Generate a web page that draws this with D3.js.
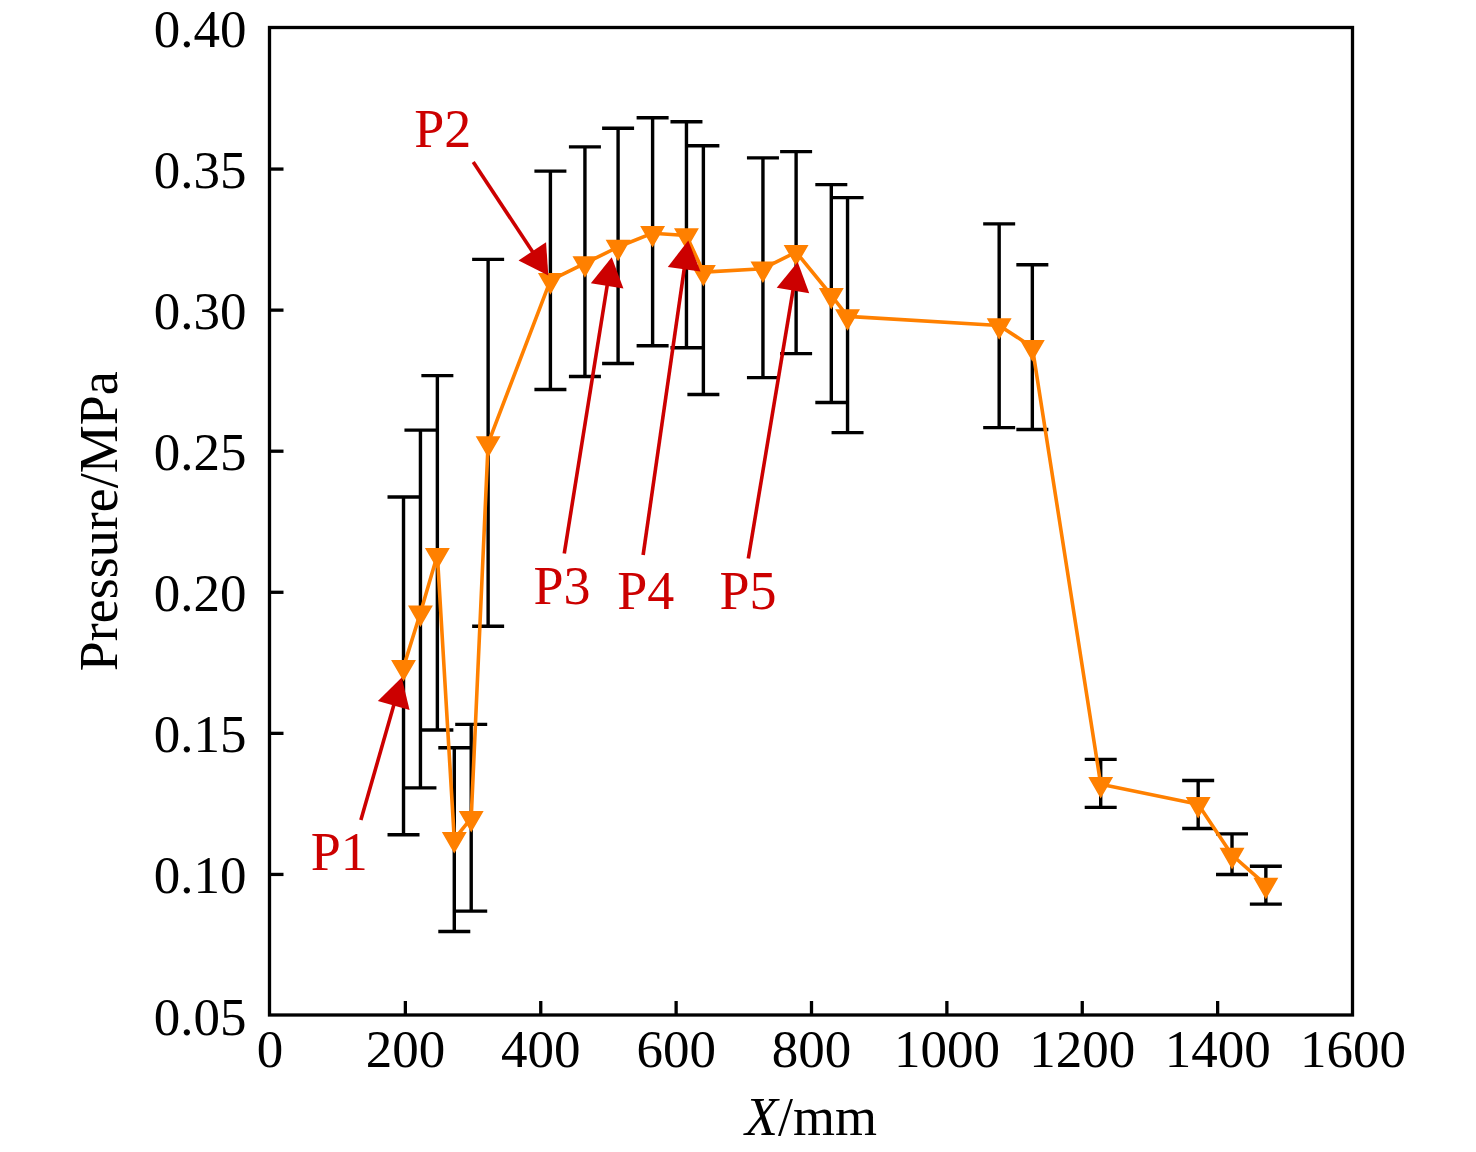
<!DOCTYPE html>
<html><head><meta charset="utf-8">
<script src="https://cdn.jsdelivr.net/npm/d3@7"></script>
<style>html,body{margin:0;padding:0;background:#fff}</style>
</head><body>
<svg id="chart" width="1476" height="1152"></svg>
<script>
// ---- data ----
const positions = [198, 223, 248, 273, 298, 323, 415, 466, 515, 566, 616, 641, 729, 778, 830, 854, 1078, 1127, 1228, 1372, 1422, 1472];
const pressure  = [0.1733, 0.1926, 0.2130, 0.1123, 0.1198, 0.2526, 0.3104, 0.3164, 0.3222, 0.3271, 0.3263, 0.3133, 0.3145, 0.3204, 0.3051, 0.2976, 0.2944, 0.2867, 0.1318, 0.1247, 0.1067, 0.0961];
const errUpper  = [0.2336, 0.2573, 0.2766, 0.1447, 0.1530, 0.3178, 0.3491, 0.3577, 0.3643, 0.3680, 0.3666, 0.3581, 0.3538, 0.3560, 0.3443, 0.3397, 0.3304, 0.3159, 0.1406, 0.1331, 0.1142, 0.1027];
const errLower  = [0.1139, 0.1305, 0.1510, 0.0796, 0.0868, 0.1878, 0.2717, 0.2763, 0.2809, 0.2872, 0.2865, 0.2699, 0.2759, 0.2844, 0.2671, 0.2564, 0.2582, 0.2575, 0.1236, 0.1161, 0.0998, 0.0893];

const xTicks = [0, 200, 400, 600, 800, 1000, 1200, 1400, 1600];
const yTicks = [0.05, 0.10, 0.15, 0.20, 0.25, 0.30, 0.35, 0.40];

const annoLabels = ["P1", "P2", "P3", "P4", "P5"];
const annoLabelX = [103, 256, 432, 556, 707];
const annoLabelY = [0.1014, 0.3575, 0.1956, 0.1938, 0.1938];
const arrowTailX = [135, 301, 435.5, 552, 707.4];
const arrowTailY = [0.1191, 0.3523, 0.2136, 0.2130, 0.2118];
const arrowTipX  = [195.3, 411.9, 505.6, 618.7, 780.4];
const arrowTipY  = [0.1696, 0.3121, 0.3186, 0.3245, 0.3169];

// ---- layout ----
const svg = d3.select("#chart");
const L = 269.5, R = 1352.5, T = 27.5, B = 1015;
const x = d3.scaleLinear().domain([0, 1600]).range([L, R]);
const y = d3.scaleLinear().domain([0.05, 0.40]).range([B, T]);
const font = "'Liberation Serif','Times New Roman',Times,serif";
const orange = "#FF8000", red = "#CC0000";

const data = positions.map((p, i) => ({x: p, y: pressure[i], hi: errUpper[i], lo: errLower[i]}));

// frame
svg.append("rect").attr("x", L).attr("y", T).attr("width", R - L).attr("height", B - T)
  .attr("fill", "none").attr("stroke", "#000").attr("stroke-width", 3.3);

// axes
const xAxis = d3.axisBottom(x).tickValues(xTicks).tickSize(-14).tickPadding(0).tickFormat(d3.format("d"));
const gx = svg.append("g").attr("transform", `translate(0,${B})`).call(xAxis);
gx.select(".domain").remove();
gx.selectAll(".tick line").attr("stroke", "#000").attr("stroke-width", 3.3);
gx.selectAll(".tick text").attr("font-family", font).attr("font-size", 53).attr("fill", "#000")
  .attr("y", 52).attr("dy", 0);
gx.selectAll(".tick").filter(d => d === 0 || d === 1600).select("line").remove();

const yAxis = d3.axisLeft(y).tickValues(yTicks).tickSize(-14).tickPadding(0).tickFormat(d3.format(".2f"));
const gy = svg.append("g").attr("transform", `translate(${L},0)`).call(yAxis);
gy.select(".domain").remove();
gy.selectAll(".tick line").attr("stroke", "#000").attr("stroke-width", 3.3);
gy.selectAll(".tick text").attr("font-family", font).attr("font-size", 53).attr("fill", "#000")
  .attr("x", -23).attr("dy", 19);
gy.selectAll(".tick").filter(d => d === 0.05 || d === 0.40).select("line").remove();

// axis titles
const xt = svg.append("text").attr("x", (L + R) / 2).attr("y", 1135).attr("text-anchor", "middle")
  .attr("font-family", font).attr("font-size", 54).attr("fill", "#000");
xt.append("tspan").attr("font-style", "italic").text("X");
xt.append("tspan").text("/mm");

svg.append("text").attr("transform", `translate(117,${(T + B) / 2}) rotate(-90)`)
  .attr("text-anchor", "middle").attr("font-family", font).attr("font-size", 54).attr("fill", "#000")
  .text("Pressure/MPa");

// error bars
const cap = 16;
const eb = svg.append("g").attr("stroke", "#000").attr("stroke-width", 3.4).attr("fill", "none");
data.forEach(d => {
  eb.append("line").attr("x1", x(d.x)).attr("x2", x(d.x)).attr("y1", y(d.hi)).attr("y2", y(d.lo));
  eb.append("line").attr("x1", x(d.x) - cap).attr("x2", x(d.x) + cap).attr("y1", y(d.hi)).attr("y2", y(d.hi));
  eb.append("line").attr("x1", x(d.x) - cap).attr("x2", x(d.x) + cap).attr("y1", y(d.lo)).attr("y2", y(d.lo));
});

// line
svg.append("path").datum(data)
  .attr("d", d3.line().x(d => x(d.x)).y(d => y(d.y)))
  .attr("fill", "none").attr("stroke", orange).attr("stroke-width", 3.6).attr("stroke-linejoin", "round");

// markers (down triangles)
const tri = d3.symbol().type(d3.symbolTriangle).size(215);
svg.append("g").selectAll("path").data(data).join("path")
  .attr("d", tri)
  .attr("transform", d => `translate(${x(d.x)},${y(d.y)}) rotate(180)`)
  .attr("fill", orange).attr("stroke", orange).attr("stroke-width", 1.5).attr("stroke-linejoin", "miter");

// annotations
const ag = svg.append("g");
annoLabels.forEach((lab, i) => {
  const x0 = x(arrowTailX[i]), y0 = y(arrowTailY[i]);
  const x1 = x(arrowTipX[i]), y1 = y(arrowTipY[i]);
  const dx = x1 - x0, dy = y1 - y0, len = Math.hypot(dx, dy);
  const ux = dx / len, uy = dy / len;
  const headLen = 29, headW = 16.5;
  const bx = x1 - ux * headLen, by = y1 - uy * headLen;
  ag.append("line").attr("x1", x0).attr("y1", y0).attr("x2", bx + ux * 2).attr("y2", by + uy * 2)
    .attr("stroke", red).attr("stroke-width", 3.6);
  ag.append("path")
    .attr("d", `M${x1},${y1}L${bx - uy * headW},${by + ux * headW}L${bx + uy * headW},${by - ux * headW}Z`)
    .attr("fill", red);
  ag.append("text").attr("x", x(annoLabelX[i])).attr("y", y(annoLabelY[i]))
    .attr("text-anchor", "middle").attr("font-family", font).attr("font-size", 54).attr("fill", red)
    .text(lab);
});
</script>
</body></html>
